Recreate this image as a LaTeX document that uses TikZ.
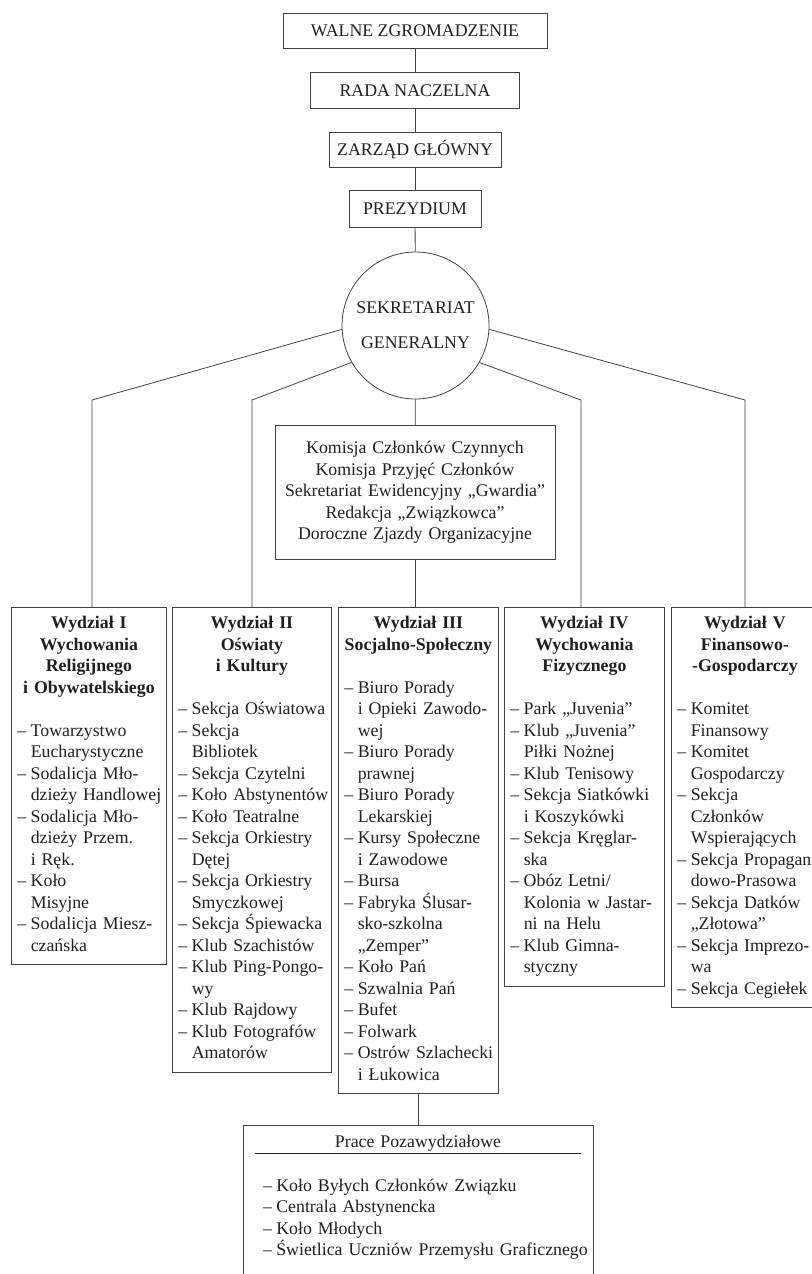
\documentclass[tikz,border=0pt]{standalone}
\usepackage{fontspec}
\setmainfont{Liberation Serif}
\newcommand\myfs{\fontsize{17.8bp}{21.5bp}\selectfont}
\newlength\dw
\setlength\dw{13.35bp}
\newcommand\dd[1]{\mbox{\makebox[\dw][l]{–}#1}}
\newcommand\ii[1]{\mbox{\hspace{\dw}#1}}
\newcommand\pd[1]{\mbox{\hspace{8bp}\makebox[\dw][l]{–}#1}}
\newcommand\hdr[1]{{\centering\bfseries\strut #1\par}\vspace{\baselineskip}}
\tikzset{
  every node/.style={text=black!88},
  link/.style={draw=black!75, line width=0.8bp},
  topbox/.style={draw=black!75, line width=0.8bp, rectangle, inner sep=0pt, font=\myfs, text height=12.3bp, text depth=0bp},
  sgnode/.style={draw=black!75, line width=0.8bp, circle, minimum size=147bp, inner sep=0pt, align=center, font=\myfs},
  midbox/.style={draw=black!75, line width=0.8bp, anchor=north, text width=264bp, inner xsep=8bp, inner ysep=13.25bp, align=center, font=\myfs},
  dept/.style={draw=black!75, line width=0.8bp, anchor=north west, inner xsep=6bp, inner ysep=6.5bp, align=left, font=\myfs},
  prbox/.style={draw=black!75, line width=0.8bp, anchor=north, text width=326bp, inner xsep=12bp, inner ysep=6bp, align=left, font=\myfs},
}
\begin{document}
\begin{tikzpicture}[x=1bp, y=-1bp]
\useasboundingbox (0,0) rectangle (812,1274);
\fill[white] (0,0) rectangle (812,1274);
\clip (0,0) rectangle (812,1274);

% top chain
\node[topbox, minimum width=264bp, minimum height=35bp] (walne) at (415,30.5) {WALNE ZGROMADZENIE};
\node[topbox, minimum width=209bp, minimum height=36bp] (rada) at (415,90) {RADA NACZELNA};
\node[topbox, minimum width=172bp, minimum height=35bp] (zarzad) at (415,149.5) {ZARZĄD GŁÓWNY};
\node[topbox, minimum width=132bp, minimum height=37bp] (prez) at (415,208.5) {PREZYDIUM};
\node[sgnode] (sg) at (415.5,325.5) {SEKRETARIAT\\[13.5bp]GENERALNY};

\node[midbox] (mid) at (415,425) {\strut Komisja Członków Czynnych\\Komisja Przyjęć Członków\\Sekretariat Ewidencyjny „Gwardia”\\Redakcja „Związkowca”\\Doroczne Zjazdy Organizacyjne\strut};

% departments
\node[dept, text width=143bp] (d1) at (11,607) {\hdr{Wydział I\\Wychowania\\Religijnego\\i Obywatelskiego}%
\dd{Towarzystwo}\\\ii{Eucharystyczne}\\\dd{Sodalicja Mło-}\\\ii{dzieży Handlowej}\\\dd{Sodalicja Mło-}\\\ii{dzieży Przem.}\\\ii{i Ręk.}\\\dd{Koło}\\\ii{Misyjne}\\\dd{Sodalicja Miesz-}\\\ii{czańska\strut}};

\node[dept, text width=147bp] (d2) at (172,607) {\hdr{Wydział II\\Oświaty\\i Kultury}%
\dd{Sekcja Oświatowa}\\\dd{Sekcja}\\\ii{Bibliotek}\\\dd{Sekcja Czytelni}\\\dd{Koło Abstynentów}\\\dd{Koło Teatralne}\\\dd{Sekcja Orkiestry}\\\ii{Dętej}\\\dd{Sekcja Orkiestry}\\\ii{Smyczkowej}\\\dd{Sekcja Śpiewacka}\\\dd{Klub Szachistów}\\\dd{Klub Ping-Pongo-}\\\ii{wy}\\\dd{Klub Rajdowy}\\\dd{Klub Fotografów}\\\ii{Amatorów\strut}};

\node[dept, text width=148bp] (d3) at (338,607) {\hdr{Wydział III\\Socjalno-Społeczny}%
\dd{Biuro Porady}\\\ii{i Opieki Zawodo-}\\\ii{wej}\\\dd{Biuro Porady}\\\ii{prawnej}\\\dd{Biuro Porady}\\\ii{Lekarskiej}\\\dd{Kursy Społeczne}\\\ii{i Zawodowe}\\\dd{Bursa}\\\dd{Fabryka Ślusar-}\\\ii{sko-szkolna}\\\ii{„Zemper”}\\\dd{Koło Pań}\\\dd{Szwalnia Pań}\\\dd{Bufet}\\\dd{Folwark}\\\dd{Ostrów Szlachecki}\\\ii{i Łukowica\strut}};

\node[dept, text width=148bp] (d4) at (504,607) {\hdr{Wydział IV\\Wychowania\\Fizycznego}%
\dd{Park „Juvenia”}\\\dd{Klub „Juvenia”}\\\ii{Piłki Nożnej}\\\dd{Klub Tenisowy}\\\dd{Sekcja Siatkówki}\\\ii{i Koszykówki}\\\dd{Sekcja Kręglar-}\\\ii{ska}\\\dd{Obóz Letni/}\\\ii{Kolonia w Jastar-}\\\ii{ni na Helu}\\\dd{Klub Gimna-}\\\ii{styczny\strut}};

\node[dept, text width=135bp] (d5) at (671,607) {\hdr{Wydział V\\Finansowo-\\-Gospodarczy}%
\dd{Komitet}\\\ii{Finansowy}\\\dd{Komitet}\\\ii{Gospodarczy}\\\dd{Sekcja}\\\ii{Członków}\\\ii{Wspierających}\\\dd{Sekcja Propagan}\\\ii{dowo-Prasowa}\\\dd{Sekcja Datków}\\\ii{„Złotowa”}\\\dd{Sekcja Imprezo-}\\\ii{wa}\\\dd{Sekcja Cegiełek\strut}};

% bottom box (its lower edge runs off the page, as in the reference)
\node[prbox] (pr) at (418,1125) {{\centering\rule[-5bp]{0pt}{21.5bp}Prace Pozawydziałowe\par}\nointerlineskip\vspace{0.5bp}\hrule height 0.8bp\vspace{22.15bp}%
\strut\pd{Koło Byłych Członków Związku}\\\pd{Centrala Abstynencka}\\\pd{Koło Młodych}\\\pd{Świetlica Uczniów Przemysłu Graficznego}\rule[-20bp]{0pt}{0pt}};

% corner coordinates
\coordinate (c1) at (92,400);
\coordinate (c2) at (252,400);
\coordinate (c4) at (581,400);
\coordinate (c5) at (745,400);

% connectors
\draw[link] (walne) -- (rada);
\draw[link] (rada) -- (zarzad);
\draw[link] (zarzad) -- (prez);
\draw[link] (prez) -- (sg);
\draw[link] (sg) -- (mid);
\draw[link] (sg.183) -- (c1) -- (c1 |- d1.north);
\draw[link] (sg.210) -- (c2) -- (c2 |- d2.north);
\draw[link] (sg.330) -- (c4) -- (c4 |- d4.north);
\draw[link] (sg.357) -- (c5) -- (c5 |- d5.north);
\draw[link] (mid.south) -- (mid.south |- d3.north);
\draw[link] (d3.south) -- (d3.south |- pr.north);
\end{tikzpicture}
\end{document}
